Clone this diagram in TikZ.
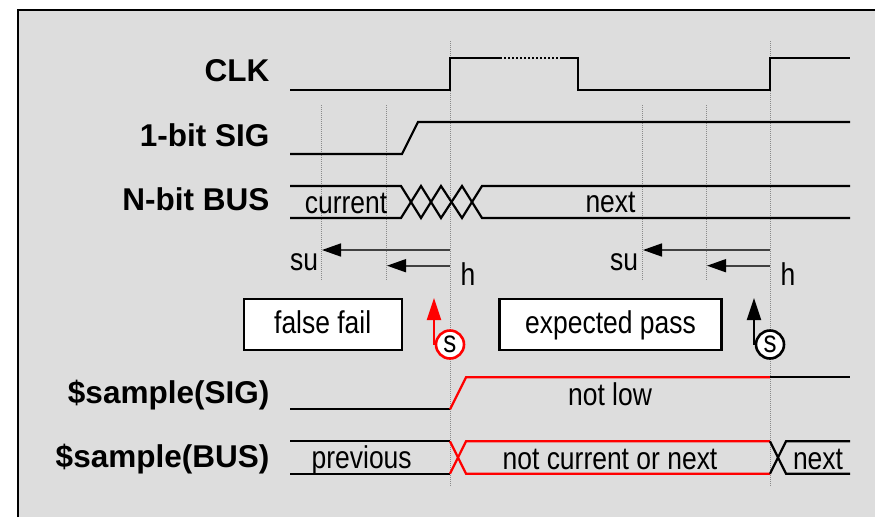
\documentclass[tikz,border=0pt]{standalone}
\usepackage{fontspec}
\setmainfont{Liberation Sans}
\newfontfamily\condsans{Liberation Sans}[FakeStretch=0.84]
\usetikzlibrary{arrows.meta}
\definecolor{panel}{HTML}{DDDDDD}
\definecolor{guide}{HTML}{8A8A8A}
\definecolor{measure}{HTML}{404040}
\begin{document}
\begin{tikzpicture}[x=1pt,y=-1pt,
  wave/.style={line width=2.2pt},
  badwave/.style={wave, draw=red},
  guideline/.style={draw=guide, line width=0.9pt, dash pattern=on 1pt off 1pt},
  siglabel/.style={anchor=base east, inner sep=0pt, font=\fontsize{31.5}{31.5}\selectfont\bfseries},
  valtext/.style={anchor=base, inner sep=0pt, font=\condsans\fontsize{31.5}{31.5}\selectfont},
  verdict/.style={draw=black, line width=2.2pt, fill=white, inner sep=0pt,
    minimum height=51pt, text height=23pt, text depth=6pt,
    font=\condsans\fontsize{31.5}{31.5}\selectfont},
  timing/.style={draw=measure, line width=1.6pt,
    -{Triangle[length=19pt,width=13pt,color=black]}},
  sampleptr/.style={line width=2.2pt, -{Triangle[length=22pt,width=14pt]}},
  samplept/.style={circle, line width=2.6pt, fill=white, minimum size=28pt,
    inner sep=0pt, font=\condsans\fontsize{31}{31}\selectfont},
]
% page and panel
\useasboundingbox (0,0) rectangle (875,517);
\fill[white] (0,0) rectangle (875,517);
\fill[panel] (18,10) rectangle (875,517);
\draw[line width=2.2pt] (18,517) -- (18,10) -- (875,10);

% timing guides
\foreach \x in {450,770} \draw[guideline] (\x,41) -- (\x,487);
\foreach \x in {321,386,642,706} \draw[guideline] (\x,105) -- (\x,280);

% signal names
\node[siglabel] (lclk)  at (269.5,81.7)  {CLK};
\node[siglabel] (lsig)  at (269.5,146.7) {1-bit SIG};
\node[siglabel] (lbus)  at (269.5,210.7) {N-bit BUS};
\node[siglabel] (lssig) at (269.5,403.3) {\$sample(SIG)};
\node[siglabel] (lsbus) at (269.5,467.3) {\$sample(BUS)};

% CLK
\draw[wave] (290,90) -- (450,90) -- (450,58) -- (500,58);
\draw[wave, dash pattern=on 2pt off 2pt] (500,58) -- (562,58);
\draw[wave] (562,58) -- (578,58) -- (578,90) -- (770,90) -- (770,58) -- (850,58);

% 1-bit SIG
\draw[wave] (290,154) -- (402,154) -- (418,122) -- (850,122);

% N-bit BUS
\draw[wave] (290,186) -- (401,186) -- (421,218) -- (441,186) -- (462,218) -- (482,186) -- (850,186);
\draw[wave] (290,218) -- (401,218) -- (421,186) -- (441,218) -- (462,186) -- (482,218) -- (850,218);
\node[valtext] (vcur)  at (346,213)   {current};
\node[valtext] (vnext) at (610.5,212) {next};

% setup / hold windows
\coordinate (edgeA1) at (450,250);   \coordinate (suA) at (322,250);
\coordinate (edgeA2) at (450,265.7); \coordinate (hA)  at (387,265.7);
\draw[timing] (edgeA1) -- (suA);
\draw[timing] (edgeA2) -- (hA);
\node[valtext] (tsuA) at (304,270) {su};
\node[valtext] (thA)  at (468,285) {h};

\coordinate (edgeB1) at (770,250);   \coordinate (suB) at (643,250);
\coordinate (edgeB2) at (770,265.7); \coordinate (hB)  at (707,265.7);
\draw[timing] (edgeB1) -- (suB);
\draw[timing] (edgeB2) -- (hB);
\node[valtext] (tsuB) at (624,270) {su};
\node[valtext] (thB)  at (788,285) {h};

% outcomes
\node[verdict, minimum width=158pt] (ff) at (322.7,324.7) {false fail};
\node[verdict, minimum width=222pt] (ep) at (610.5,324.7) {expected pass};

% sampling points
\coordinate (sAfoot) at (434,344.5); \coordinate (sAtip) at (434,298);
\draw[sampleptr, red] (sAfoot) -- (sAtip);
\node[samplept, draw=red] (sA) at (450,344.5) {s};
\coordinate (sBfoot) at (754,344.5); \coordinate (sBtip) at (754,298);
\draw[sampleptr, black] (sBfoot) -- (sBtip);
\node[samplept, draw=black] (sB) at (770,344.5) {s};

% $sample(SIG)
\draw[wave] (290,409.3) -- (450,409.3);
\draw[badwave] (450,409.3) -- (466,377.3) -- (770,377.3);
\draw[wave] (770,377.3) -- (850,377.3);
\node[valtext] (vlow) at (610,405) {not low};

% $sample(BUS)
\draw[wave] (290,441.3) -- (450,441.3);
\draw[wave] (290,473.7) -- (450,473.7);
\draw[badwave] (450,441.3) -- (466,473.7) -- (770,473.7);
\draw[badwave] (450,473.7) -- (466,441.3) -- (770,441.3);
\draw[wave] (770,441.3) -- (786,473.7) -- (850,473.7);
\draw[wave] (770,473.7) -- (786,441.3) -- (850,441.3);
\node[valtext] (vprev) at (361.7,468) {previous};
\node[valtext] (vnot)  at (610,469)   {not current or next};
\node[valtext] (vnxt)  at (818,469)   {next};
\end{tikzpicture}
\end{document}
